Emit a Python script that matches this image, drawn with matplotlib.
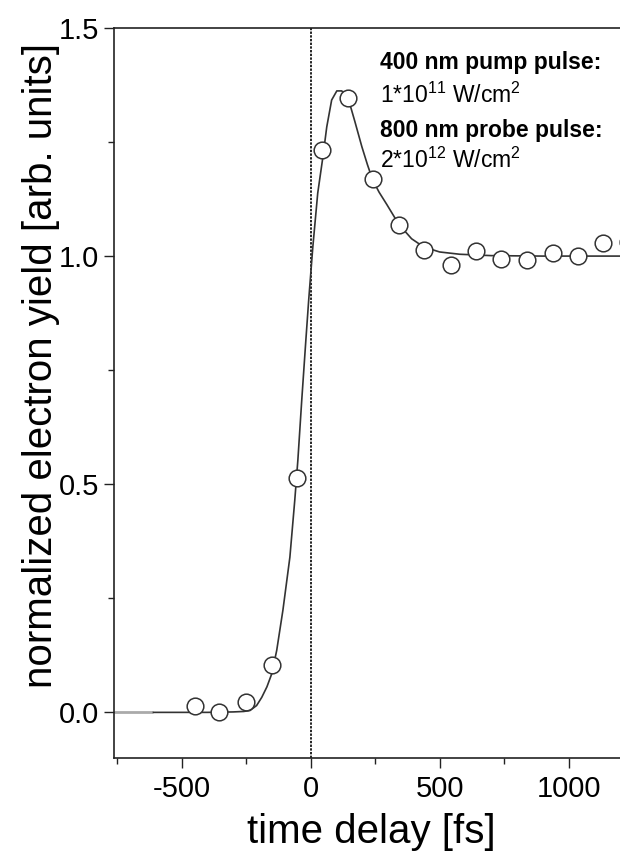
import matplotlib
matplotlib.use("Agg")
import matplotlib.pyplot as plt
from matplotlib.ticker import MultipleLocator

plt.rcParams['font.family'] = ['Liberation Sans', 'DejaVu Sans']
plt.rcParams['mathtext.default'] = 'regular'
plt.rcParams['axes.unicode_minus'] = False

# measured electron yield vs pump-probe delay
delay_fs = [-450, -355, -252, -151, -54, 43, 143, 240, 341, 438, 543, 640,
            736, 837, 938, 1035, 1132, 1229]
yield_norm = [0.013, 0.0, 0.022, 0.103, 0.513, 1.232, 1.346, 1.169, 1.068,
              1.013, 0.980, 1.011, 0.993, 0.991, 1.007, 1.000, 1.028, 1.030]

# fitted response curve
fit_fs = [-610, -400, -300, -260, -236, -210, -190, -170, -151, -132, -108,
          -81, -62, -50, -35, -19, -8, 8, 27, 47, 62, 81, 101, 120, 143, 171,
          198, 220, 240, 265, 295, 341, 391, 438, 500, 578, 700, 900, 1300]
fit_yield = [0.0, 0.0, 0.001, 0.002, 0.004, 0.015, 0.033, 0.056, 0.085, 0.136,
             0.224, 0.34, 0.465, 0.553, 0.684, 0.816, 0.904, 1.02, 1.138,
             1.217, 1.283, 1.342, 1.362, 1.362, 1.35, 1.295, 1.24, 1.20, 1.167,
             1.14, 1.113, 1.07, 1.038, 1.02, 1.009, 1.004, 1.001, 1.0, 1.0]

pump_label = "400 nm pump pulse:"
pump_intensity = r"1*10$^{11}$ W/cm$^{2}$"
probe_label = "800 nm probe pulse:"
probe_intensity = r"2*10$^{12}$ W/cm$^{2}$"

x_min, x_max = -763, 1300

fig = plt.figure(figsize=(6.2, 8.65), dpi=100)
ax = fig.add_axes([0.1839, 0.1237, 0.858, 0.844])

# grey baseline ahead of the fit
ax.hlines(0, x_min, fit_fs[0], color='#aaaaaa', lw=2.0, zorder=1)
ax.axvline(0, color='#222222', lw=1.4, ls=(0, (1.2, 0.7)), zorder=1)
ax.plot(fit_fs, fit_yield, color='#333333', lw=1.2, zorder=2)
ax.plot(delay_fs, yield_norm, 'o', ms=12, mfc='white', mec='#333333',
        mew=1.1, zorder=3)

ax.set_xlim(x_min, x_max)
ax.set_ylim(-0.1, 1.5)
ax.xaxis.set_major_locator(MultipleLocator(500))
ax.xaxis.set_minor_locator(MultipleLocator(250))
ax.yaxis.set_major_locator(MultipleLocator(0.5))
ax.yaxis.set_minor_locator(MultipleLocator(0.25))
ax.yaxis.set_major_formatter(plt.FormatStrFormatter('%.1f'))

ax.tick_params(which='both', direction='out', top=False, right=False,
               width=1.0, labelsize=21, color='#222222')
ax.tick_params(which='major', length=7.5)
ax.tick_params(which='minor', length=4.5)
ax.tick_params(axis='x', pad=5)
ax.tick_params(axis='y', pad=3)
for side in ['left', 'bottom', 'top']:
    ax.spines[side].set_linewidth(1.2)
    ax.spines[side].set_color('#222222')
ax.spines['right'].set_visible(False)

ax.set_xlabel("time delay [fs]", fontsize=29)
ax.xaxis.set_label_coords(0.483, -0.075)
ax.set_ylabel("normalized electron yield [arb. units]", fontsize=29)
ax.yaxis.set_label_coords(-0.101, 0.538)

tx = 267
ax.text(tx, 1.41, pump_label, fontsize=16.5, fontweight='bold', va='baseline')
ax.text(tx, 1.336, pump_intensity, fontsize=16.5, va='baseline')
ax.text(tx, 1.261, probe_label, fontsize=16.5, fontweight='bold', va='baseline')
ax.text(tx, 1.193, probe_intensity, fontsize=16.5, va='baseline')

fig.savefig("out.png", dpi=100)
